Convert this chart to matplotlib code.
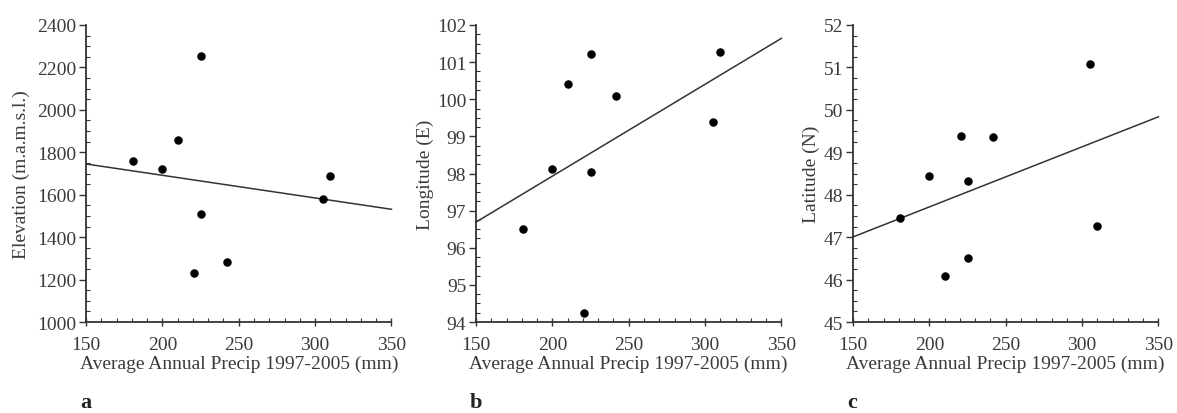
import matplotlib
matplotlib.use("Agg")
import matplotlib.pyplot as plt
import numpy as np
from matplotlib.ticker import MultipleLocator, AutoMinorLocator

# ===== Data =====
precip = [181, 200, 210, 221, 225, 225, 242, 305, 310]
elevation = [1758, 1722, 1859, 1230, 2254, 1508, 1282, 1580, 1690]
longitude = [96.5, 98.12, 100.4, 94.23, 101.23, 98.04, 100.09, 99.38, 101.26]
latitude = [47.46, 48.45, 46.09, 49.39, 48.33, 46.51, 49.35, 51.08, 47.27]

ylabels = ["Elevation (m.a.m.s.l.)", "Longitude (E)", "Latitude (N)"]
ylims = [(1000, 2400), (94, 102), (45, 52)]
ysteps = [200, 1, 1]
letters = ["a", "b", "c"]
xlabel = "Average Annual Precip 1997-2005 (mm)"

plt.rcParams["font.family"] = ["Liberation Serif", "DejaVu Serif"]
plt.rcParams["font.size"] = 14
txt = "#3a3a3a"
ink = "#333333"

fig = plt.figure(figsize=(11.77, 4.14), dpi=100)
lefts = [0.0731, 0.4044, 0.7247]
label_x = [-0.183, -0.138, -0.108]

for i, yvals in enumerate([elevation, longitude, latitude]):
    ax = fig.add_axes([lefts[i], 0.2198, 0.2595, 0.7174])
    ax.scatter(precip, yvals, s=26, color="black", zorder=3)

    # least squares line
    k, b = np.polyfit(precip, yvals, 1)
    xs = np.array([150, 350])
    ax.plot(xs, k * xs + b, color=ink, lw=1.1, clip_on=False)

    ax.set_xlim(150, 350)
    ax.set_ylim(*ylims[i])
    ax.xaxis.set_major_locator(MultipleLocator(50))
    ax.xaxis.set_minor_locator(MultipleLocator(10))
    ax.yaxis.set_major_locator(MultipleLocator(ysteps[i]))
    ax.yaxis.set_minor_locator(AutoMinorLocator(4))

    for s in ["top", "right"]:
        ax.spines[s].set_visible(False)
    for s in ["left", "bottom"]:
        ax.spines[s].set_color(ink)
        ax.spines[s].set_linewidth(1.3)

    ax.tick_params(axis="y", which="major", direction="out", length=5,
                   width=1, color=ink, labelcolor=txt, pad=2)
    ax.tick_params(axis="y", which="minor", direction="in", length=3,
                   width=0.8, color=ink)
    ax.tick_params(axis="x", which="major", direction="inout", length=6,
                   width=1, color=ink, labelcolor=txt, pad=7)
    ax.tick_params(axis="x", which="minor", direction="in", length=3,
                   width=0.8, color=ink)

    ax.set_xlabel(xlabel, color=txt, labelpad=1)
    ax.set_ylabel(ylabels[i], color=txt)
    ax.yaxis.set_label_coords(label_x[i], 0.5)

    fig.text(lefts[i] - 0.005, 0.003, letters[i], fontsize=16,
             fontweight="bold", color="#222222", ha="left", va="bottom")

fig.savefig("out.png", dpi=100)
